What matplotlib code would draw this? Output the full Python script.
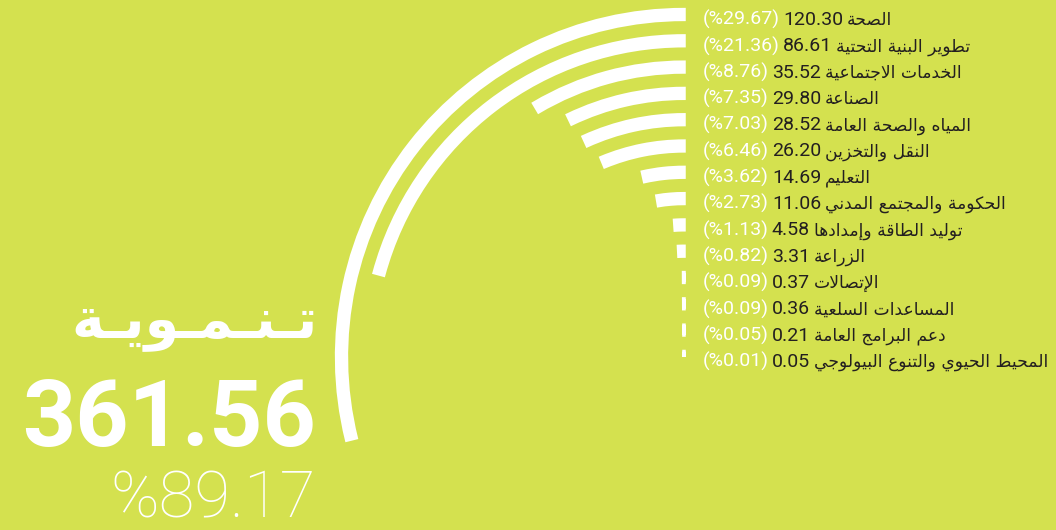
"""Radial bar infographic: development aid by sector (Arabic labels)."""

import matplotlib

matplotlib.use("Agg")
import matplotlib.pyplot as plt
from matplotlib.patches import Wedge

# --- data -------------------------------------------------------------
sectors = [
    "الصحة",
    "تطوير البنية التحتية",
    "الخدمات الاجتماعية",
    "الصناعة",
    "المياه والصحة العامة",
    "النقل والتخزين",
    "التعليم",
    "الحكومة والمجتمع المدني",
    "توليد الطاقة وإمدادها",
    "الزراعة",
    "الإتصالات",
    "المساعدات السلعية",
    "دعم البرامج العامة",
    "المحيط الحيوي والتنوع البيولوجي",
]
amounts = [120.30, 86.61, 35.52, 29.80, 28.52, 26.20, 14.69,
           11.06, 4.58, 3.31, 0.37, 0.36, 0.21, 0.05]
shares = [29.67, 21.36, 8.76, 7.35, 7.03, 6.46, 3.62,
          2.73, 1.13, 0.82, 0.09, 0.09, 0.05, 0.01]
title = "تـنـمـويـة"
total_amount = "361.56"
total_share = "%89.17"

BG = "#d4e14f"
DARK = "#231f20"
WHITE = "#ffffff"

# --- minimal Arabic shaping (matplotlib has no bidi / joining) ---------
# letter -> (isolated presentation form, 1 = joins right only, 2 = both)
FORMS = {
    "ء": (0xFE80, 0), "آ": (0xFE81, 1), "أ": (0xFE83, 1), "ؤ": (0xFE85, 1),
    "إ": (0xFE87, 1), "ئ": (0xFE89, 2), "ا": (0xFE8D, 1), "ب": (0xFE8F, 2),
    "ة": (0xFE93, 1), "ت": (0xFE95, 2), "ث": (0xFE99, 2), "ج": (0xFE9D, 2),
    "ح": (0xFEA1, 2), "خ": (0xFEA5, 2), "د": (0xFEA9, 1), "ذ": (0xFEAB, 1),
    "ر": (0xFEAD, 1), "ز": (0xFEAF, 1), "س": (0xFEB1, 2), "ش": (0xFEB5, 2),
    "ص": (0xFEB9, 2), "ض": (0xFEBD, 2), "ط": (0xFEC1, 2), "ظ": (0xFEC5, 2),
    "ع": (0xFEC9, 2), "غ": (0xFECD, 2), "ف": (0xFED1, 2), "ق": (0xFED5, 2),
    "ك": (0xFED9, 2), "ل": (0xFEDD, 2), "م": (0xFEE1, 2), "ن": (0xFEE5, 2),
    "ه": (0xFEE9, 2), "و": (0xFEED, 1), "ى": (0xFEEF, 1), "ي": (0xFEF1, 2),
}
LAM_ALEF = {"آ": 0xFEF5, "أ": 0xFEF7, "إ": 0xFEF9, "ا": 0xFEFB}


def shape_arabic(text):
    tokens = []
    i = 0
    while i < len(text):
        c = text[i]
        if c == "ل" and i + 1 < len(text) and text[i + 1] in LAM_ALEF:
            tokens.append((LAM_ALEF[text[i + 1]], 1))
            i += 2
            continue
        if c in FORMS:
            tokens.append(FORMS[c])
        elif c == "ـ":
            tokens.append((c, 2))
        else:
            tokens.append((c, 0))
        i += 1

    out = []
    for k, (base, kind) in enumerate(tokens):
        if isinstance(base, str):
            out.append(base)
            continue
        prev_joins = k > 0 and tokens[k - 1][1] == 2
        next_joins = kind == 2 and k + 1 < len(tokens) and tokens[k + 1][1] > 0
        if kind == 0:
            form = 0
        elif prev_joins and next_joins:
            form = 3
        elif prev_joins:
            form = 1
        elif next_joins:
            form = 2
        else:
            form = 0
        out.append(chr(base + form))
    return "".join(out)[::-1]


# --- figure -------------------------------------------------------------
W, H = 1056, 530
fig = plt.figure(figsize=(W / 100, H / 100), dpi=100)
fig.patch.set_facecolor(BG)
ax = fig.add_axes([0, 0, 1, 1])
ax.set_xlim(0, W)
ax.set_ylim(H, 0)
ax.axis("off")

cx, cy = 684, 357
outer_mid, ring_step = 342.5, 26.3
bar_w, stroke_px = 9.8, 3.5
deg_per_pct = 3.5

for i, share in enumerate(shares):
    r_mid = outer_mid - ring_step * i
    r_out = r_mid + bar_w / 2
    width = min(bar_w, r_out)
    sweep = share * deg_per_pct
    ax.add_patch(Wedge((cx, cy), r_out, -90 - sweep, -90, width=width,
                       facecolor=WHITE, edgecolor=WHITE,
                       linewidth=stroke_px * 72 / 100, joinstyle="miter"))

# --- row labels ----------------------------------------------------------
num_font = ["Roboto", "DejaVu Sans"]
ar_font = ["DejaVu Sans"]
renderer = fig.canvas.get_renderer()
x_start = 703
for i, (name, amount, share) in enumerate(zip(sectors, amounts, shares)):
    y = 25 + ring_step * i
    t = ax.text(x_start, y, f"(%{share:.2f})", color=WHITE, fontsize=14,
                family=num_font, ha="left", va="baseline")
    x = t.get_window_extent(renderer).x1 + 3
    t = ax.text(x, y, f"{amount:.2f}", color=DARK, fontsize=14,
                family=num_font, ha="left", va="baseline")
    x = t.get_window_extent(renderer).x1 + 4
    ax.text(x, y, shape_arabic(name), color=DARK, fontsize=12.3,
            family=ar_font, ha="left", va="baseline")

# --- totals on the left ------------------------------------------------
ax.text(318, 337, shape_arabic(title), color=WHITE, fontsize=40,
        fontweight="bold", family=ar_font, ha="right", va="baseline")
ax.text(316, 446, total_amount, color=WHITE, fontsize=67,
        fontweight="bold", family=["Roboto", "DejaVu Sans"],
        ha="right", va="baseline")
ax.text(316, 518, total_share, color=WHITE, fontsize=47,
        fontweight="light", family=["Roboto", "DejaVu Sans"],
        ha="right", va="baseline")

fig.savefig("out.png", dpi=100, facecolor=BG)
